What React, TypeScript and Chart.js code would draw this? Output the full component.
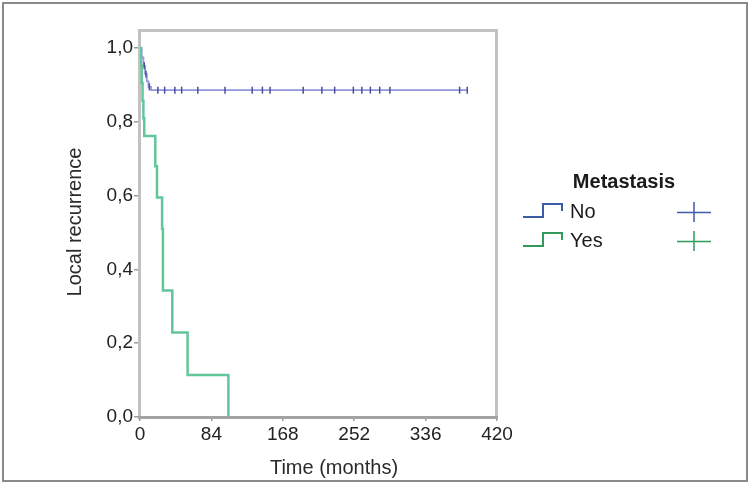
import React, { useEffect, useRef } from "react";
import { Chart, registerables } from "chart.js";

Chart.register(...registerables);

// Kaplan–Meier estimates for local recurrence, split by metastasis status
const noTimes = [0, 2, 4, 6, 8, 10, 13, 385];
const noSurvival = [1.0, 0.975, 0.952, 0.93, 0.91, 0.895, 0.886, 0.886];

const yesTimes = [0, 1, 2, 3, 4, 5, 18, 20, 26, 27, 38, 56, 104];
const yesSurvival = [1.0, 0.952, 0.905, 0.857, 0.81, 0.762, 0.68, 0.595, 0.51, 0.343, 0.229, 0.114, 0.0];

// censored observations in the "No" group (months)
const noCensored = [5, 7, 11, 21, 29, 41, 49, 68, 100, 132, 144, 153, 192, 214, 229, 251, 261, 271, 282, 294, 376, 385];

const xTicks = [0, 84, 168, 252, 336, 420];
const yTicks = [0, 0.2, 0.4, 0.6, 0.8, 1.0];

const groupLabels = ["No", "Yes"];
const legendTitle = "Metastasis";
const xTitle = "Time (months)";
const yTitle = "Local recurrence";

const FONT = "'Liberation Sans', Arial, Helvetica, sans-serif";
const BLUE_LINE = "#9097dc";
const BLUE_MARK = "#4a4f9e";
const GREEN_LINE = "#63c59a";
const LEGEND_BLUE = "#3d5ca8";
const LEGEND_GREEN = "#2f9a5c";

function survivalAt(times: number[], values: number[], t: number): number {
  let v = values[0];
  for (let i = 0; i < times.length; i++) if (times[i] <= t) v = values[i];
  return v;
}

const decorations = {
  id: "kmDecorations",
  beforeDatasetsDraw(chart: any) {
    const { ctx, chartArea } = chart;
    const { left, right, top, bottom } = chartArea;
    ctx.save();
    ctx.strokeStyle = "#c2c2c2";
    ctx.lineWidth = 3;
    ctx.strokeRect(left - 0.5, top + 0.5, right - left, bottom - top);
    ctx.restore();
  },
  afterDatasetsDraw(chart: any) {
    const { ctx, chartArea } = chart;
    const { left, right, bottom } = chartArea;
    ctx.save();
    ctx.strokeStyle = "#a3a3a3";
    ctx.lineWidth = 3;
    ctx.beginPath();
    ctx.moveTo(left - 2, bottom + 0.5);
    ctx.lineTo(right + 1, bottom + 0.5);
    ctx.stroke();
    ctx.restore();
  },
  afterDraw(chart: any) {
    const { ctx } = chart;
    ctx.save();
    ctx.fillStyle = "#2a2a2a";
    ctx.textAlign = "center";
    ctx.textBaseline = "middle";
    ctx.font = `20px ${FONT}`;
    ctx.fillText(xTitle, 334, 468);
    ctx.translate(75, 222);
    ctx.rotate(-Math.PI / 2);
    ctx.fillText(yTitle, 0, 0);
    ctx.restore();

    // legend
    ctx.save();
    ctx.fillStyle = "#1a1a1a";
    ctx.textBaseline = "middle";
    ctx.textAlign = "center";
    ctx.font = `bold 20px ${FONT}`;
    ctx.fillText(legendTitle, 624, 182);
    const rows = [
      { label: groupLabels[0], color: LEGEND_BLUE, y: 212 },
      { label: groupLabels[1], color: LEGEND_GREEN, y: 241 },
    ];
    rows.forEach((r) => {
      ctx.strokeStyle = r.color;
      ctx.lineWidth = 2;
      ctx.beginPath();
      ctx.moveTo(523, r.y + 5);
      ctx.lineTo(543, r.y + 5);
      ctx.lineTo(543, r.y - 8);
      ctx.lineTo(562, r.y - 8);
      ctx.lineTo(562, r.y - 1);
      ctx.stroke();
      ctx.lineWidth = 1.5;
      ctx.beginPath();
      ctx.moveTo(677, r.y + 0.5);
      ctx.lineTo(711, r.y + 0.5);
      ctx.moveTo(694, r.y - 10);
      ctx.lineTo(694, r.y + 10);
      ctx.stroke();
      ctx.textAlign = "left";
      ctx.font = `20px ${FONT}`;
      ctx.fillStyle = "#1a1a1a";
      ctx.fillText(r.label, 570, r.y);
    });
    ctx.restore();
  },
};

export default function App() {
  const canvasRef = useRef<HTMLCanvasElement | null>(null);

  useEffect(() => {
    const canvas = canvasRef.current;
    if (!canvas) return;
    const chart = new Chart(canvas, {
      type: "line",
      data: {
        datasets: [
          {
            label: groupLabels[1],
            data: yesTimes.map((t, i) => ({ x: t, y: yesSurvival[i] })),
            stepped: "before",
            borderColor: GREEN_LINE,
            borderWidth: 2.5,
            pointRadius: 0,
            fill: false,
            order: 0,
          },
          {
            label: groupLabels[0] + " censored",
            data: noCensored.map((t) => ({ x: t, y: survivalAt(noTimes, noSurvival, t) })),
            showLine: false,
            pointStyle: "line",
            rotation: 90,
            pointRadius: 3.5,
            borderColor: BLUE_MARK,
            borderWidth: 1.5,
            order: 1,
          },
          {
            label: groupLabels[0],
            data: noTimes.map((t, i) => ({ x: t, y: noSurvival[i] })),
            stepped: "before",
            borderColor: BLUE_LINE,
            borderWidth: 1.8,
            pointRadius: 0,
            fill: false,
            order: 2,
          },
        ],
      },
      options: {
        animation: false,
        responsive: false,
        parsing: true,
        layout: { padding: { left: 0, top: 30, right: 253, bottom: 0 } },
        plugins: { legend: { display: false }, tooltip: { enabled: false } },
        scales: {
          x: {
            type: "linear",
            min: 0,
            max: 420,
            afterBuildTicks: (s: any) => {
              s.ticks = xTicks.map((v) => ({ value: v }));
            },
            afterFit: (s: any) => {
              s.height = 67;
            },
            ticks: {
              autoSkip: false,
              maxRotation: 0,
              padding: 2,
              color: "#222",
              font: { family: FONT, size: 19 },
            },
            grid: { display: true, drawOnChartArea: false, drawTicks: true, tickLength: 4, color: "#9a9a9a", lineWidth: 1.5 },
            border: { display: false },
          },
          y: {
            type: "linear",
            min: 0,
            max: 1.049,
            afterBuildTicks: (s: any) => {
              s.ticks = yTicks.map((v) => ({ value: v }));
            },
            afterFit: (s: any) => {
              s.width = 140;
            },
            ticks: {
              autoSkip: false,
              padding: 1,
              color: "#222",
              font: { family: FONT, size: 19 },
              callback: (v: any) => Number(v).toFixed(1).replace(".", ","),
            },
            grid: { display: true, drawOnChartArea: false, drawTicks: true, tickLength: 6, color: "#9a9a9a", lineWidth: 1.5 },
            border: { display: false },
          },
        },
      },
      plugins: [decorations],
    });
    return () => chart.destroy();
  }, []);

  return (
    <div style={{ position: "absolute", left: 0, top: 0, width: 750, height: 484, background: "#fff" }}>
      <canvas ref={canvasRef} width={750} height={484} style={{ position: "absolute", left: 0, top: 0, width: 750, height: 484 }} />
      <div
        style={{
          position: "absolute",
          left: 2,
          top: 2,
          right: 2,
          bottom: 2,
          border: "2px solid #8a8a8a",
          pointerEvents: "none",
        }}
      />
    </div>
  );
}
